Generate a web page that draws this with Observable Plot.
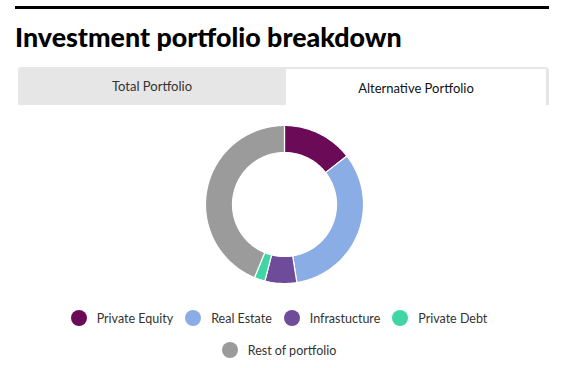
<!DOCTYPE html>
<html><head><meta charset="utf-8">
<script src="https://cdn.jsdelivr.net/npm/d3@7"></script>
<script src="https://cdn.jsdelivr.net/npm/@observablehq/plot@0.6"></script>
<style>
body{margin:0;background:#fff;font-family:Lato,"Open Sans",sans-serif;color:#222;width:577px;height:368px;position:relative;overflow:hidden}
#rule{position:absolute;left:15px;top:6px;width:534px;height:3px;background:#000}
#title{position:absolute;left:15px;top:21px;font-size:26.8px;font-weight:900;color:#000;letter-spacing:0}
#tabs{position:absolute;left:18px;top:67px;width:531px;height:38px;display:flex}
.tab{display:flex;align-items:center;justify-content:center;font-size:13px}
#t1{width:268px;background:#e6e6e6;color:#333;border-top-left-radius:3px}
#t2{flex:1;background:#fff;color:#111;border-top:2px solid #e6e6e6;border-right:3px solid #e6e6e6;border-top-right-radius:4px;box-sizing:border-box;padding-top:1px}
#chart{position:absolute;left:194px;top:114px}
.row{position:absolute;left:18px;width:522px;display:flex;justify-content:center;font-size:12.5px;color:#333}
.item{display:flex;align-items:center;height:20px;margin:0 6px}
.dot{width:16px;height:16px;border-radius:50%;margin-right:10px}
</style></head>
<body>
<div id="rule"></div>
<div id="title">Investment portfolio breakdown</div>
<div id="tabs"><div class="tab" id="t1">Total Portfolio</div><div class="tab" id="t2">Alternative Portfolio</div></div>
<div id="chart"></div>
<div class="row" id="row1" style="top:308px"></div>
<div class="row" id="row2" style="top:340px"></div>
<script>
const categories = ["Private Equity","Real Estate","Infrastucture","Private Debt","Rest of portfolio"];
const values = [14.5, 33, 6.5, 2.2, 43.8];
const colors = ["#6b0a56","#8aade6","#6e4c9a","#3fd6a4","#9b9b9b"];

const outerR = 79, innerR = 52;
const pie = d3.pie().sort(null).value(d => d.value)(categories.map((c,i)=>({category:c,value:values[i]})));
const pts = [];
for (const s of pie) {
  const n = Math.max(8, Math.ceil((s.endAngle - s.startAngle) * 40));
  for (let k = 0; k <= n; k++) {
    const a = s.startAngle + (s.endAngle - s.startAngle) * k / n;
    pts.push({category: s.data.category, x: outerR*Math.sin(a), y: outerR*Math.cos(a)});
  }
  for (let k = n; k >= 0; k--) {
    const a = s.startAngle + (s.endAngle - s.startAngle) * k / n;
    pts.push({category: s.data.category, x: innerR*Math.sin(a), y: innerR*Math.cos(a)});
  }
}
const plot = Plot.plot({
  width: 180, height: 180, margin: 0,
  x: {domain: [-90, 90], axis: null},
  y: {domain: [-90, 90], axis: null},
  color: {domain: categories, range: colors},
  marks: [
    Plot.line(pts, {x: "x", y: "y", z: "category", fill: "category", stroke: "white", strokeWidth: 1.2, curve: "linear-closed"})
  ]
});
document.getElementById("chart").appendChild(plot);

categories.forEach((c,i)=>{
  const it = document.createElement("div"); it.className="item";
  it.innerHTML = `<span class="dot" style="background:${colors[i]}"></span><span>${c}</span>`;
  document.getElementById(i<4?"row1":"row2").appendChild(it);
});
</script>
</body></html>
